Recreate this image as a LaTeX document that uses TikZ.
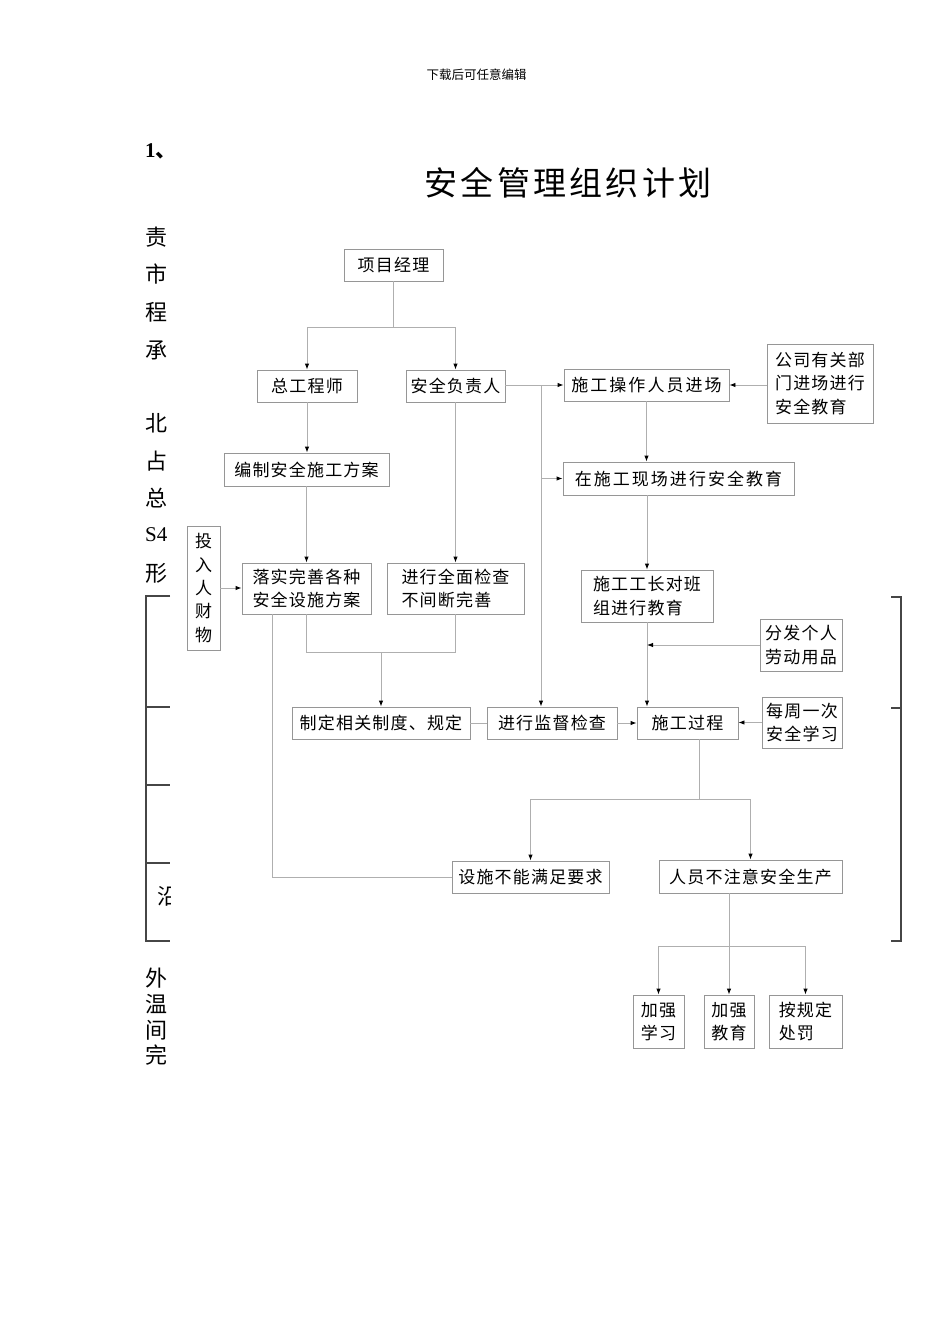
\documentclass[tikz,border=0pt]{standalone}
\usepackage{fontspec}
\setmainfont{Liberation Serif}
\newfontfamily\cjk[LetterSpace=7]{Noto Sans CJK SC}
\newfontfamily\cjkw[LetterSpace=12]{Noto Sans CJK SC}
\newfontfamily\cjkt[LetterSpace=10]{Noto Sans CJK SC}
\newfontfamily\cjkp{Noto Sans CJK SC}
\usetikzlibrary{arrows.meta}
\definecolor{boxgray}{RGB}{150,150,150}
\definecolor{linegray}{RGB}{175,175,175}
\definecolor{brkgray}{RGB}{70,70,70}
\begin{document}
\begin{tikzpicture}[x=1pt,y=-1pt,
  bx/.style={draw=boxgray, line width=0.9pt, inner sep=0pt, align=left, font={\cjk\fontsize{17}{23.5}\selectfont}},
  wbx/.style={bx, font={\cjkw\fontsize{17}{23.5}\selectfont}},
  conn/.style={draw=linegray, line width=0.9pt},
  arr/.style={conn, -{Latex[length=6pt,width=4.5pt,color=black]}},
  brk/.style={draw=brkgray, line width=1.3pt},
  lt/.style={font={\cjkp\fontsize{22}{22}\selectfont}, inner sep=0pt}
]
\fill[white] (0,0) rectangle (950,1344);
\useasboundingbox (0,0) rectangle (950,1344);

% header and title
\node[font={\cjkp\fontsize{12.5}{12.5}\selectfont}, inner sep=0pt] (hdr) at (476.5,75) {下载后可任意编辑};
\node[anchor=base west, inner sep=0pt] (num) at (145,157) {\fontsize{21}{21}\selectfont\bfseries 1\cjkp 、};
\node[font={\cjkt\fontsize{33}{33}\selectfont}, inner sep=0pt] (title) at (568,183) {安全管理组织计划};

% left column of clipped text
\node[lt] (l1) at (156,237) {责};
\node[lt] (l2) at (156,274) {市};
\node[lt] (l3) at (156,312) {程};
\node[lt] (l4) at (156,350) {承};
\node[lt] (l5) at (156,423) {北};
\node[lt] (l6) at (156,461) {占};
\node[lt] (l7) at (156,498) {总};
\node[anchor=west, inner sep=0pt, font={\fontsize{21}{21}\selectfont}] (l8) at (145,535) {S4};
\node[lt] (l9) at (156,573) {形};
\node[lt] (l10) at (156,978) {外};
\node[lt] (l11) at (156,1004) {温};
\node[lt] (l12) at (156,1030) {间};
\node[lt] (l13) at (156,1055) {完};
\begin{scope}
\clip (150,880) rectangle (170,912);
\node[lt] (yan) at (168,896) {沿};
\end{scope}

% brackets
\draw[brk] (170,596) -- (146,596) -- (146,941) -- (170,941);
\draw[brk] (146,707) -- (170,707);
\draw[brk] (146,785) -- (170,785);
\draw[brk] (146,863) -- (170,863);
\draw[brk] (891,597) -- (901,597) -- (901,941) -- (891,941);
\draw[brk] (891,708) -- (901,708);

% boxes
\node[bx, minimum width=99, minimum height=32] (pm) at (393.5,265) {项目经理};
\node[bx, minimum width=100, minimum height=32] (zg) at (307,386) {总工程师};
\node[bx, minimum width=99, minimum height=32] (aq) at (455.5,386) {安全负责人};
\node[bx, minimum width=165, minimum height=33] (bz) at (306.5,469.5) {编制安全施工方案};
\node[bx, minimum width=129, minimum height=51] (ls) at (306.5,588.5) {落实完善各种\\安全设施方案};
\node[bx, minimum width=137, minimum height=51] (jc) at (455.5,588.5) {进行全面检查\\不间断完善};
\node[bx, align=center, minimum width=33, minimum height=124, font={\cjkp\fontsize{17}{23.3}\selectfont}] (tr) at (203.5,588) {投\\入\\人\\财\\物};
\node[wbx, minimum width=165, minimum height=32] (cz) at (646.5,385) {施工操作人员进场};
\node[bx, minimum width=106, minimum height=79] (gs) at (820,383.5) {公司有关部\\门进场进行\\安全教育};
\node[wbx, minimum width=231, minimum height=33] (xc) at (678.5,478.5) {在施工现场进行安全教育};
\node[bx, minimum width=132, minimum height=52] (gz) at (647,596) {施工工长对班\\组进行教育};
\node[bx, minimum width=82, minimum height=52] (ff) at (801,645) {分发个人\\劳动用品};
\node[bx, minimum width=101, minimum height=32] (gc) at (687.5,723) {施工过程};
\node[bx, minimum width=80, minimum height=51] (mz) at (802,722.5) {每周一次\\安全学习};
\node[bx, minimum width=178, minimum height=32] (zd) at (381,723) {制定相关制度、规定};
\node[bx, minimum width=130, minimum height=32] (jd) at (552,723) {进行监督检查};
\node[bx, minimum width=157, minimum height=32] (ss) at (530.5,877) {设施不能满足要求};
\node[bx, minimum width=183, minimum height=33] (ry) at (750.5,876.5) {人员不注意安全生产};
\node[bx, minimum width=51, minimum height=53] (xx) at (658.5,1021.5) {加强\\学习};
\node[bx, minimum width=50, minimum height=53] (jy) at (729,1021.5) {加强\\教育};
\node[bx, minimum width=73, minimum height=53] (cf) at (805.5,1021.5) {按规定\\处罚};

% connectors
\draw[conn] (pm.south) -- ++(0,46) coordinate (j1);
\draw[arr] (j1) -| (zg.north);
\draw[arr] (j1) -| (aq.north);
\draw[arr] (zg.south) -- (zg.south |- bz.north);
\draw[arr] (bz.south) -- (bz.south |- ls.north);
\draw[arr] (aq.south) -- (aq.south |- jc.north);
\draw[arr] (tr.east) -- (tr.east -| ls.west);
\draw[conn] (ls.south) -- ++(0,38) coordinate (j3) -| (jc.south);
\draw[arr] (j3 -| zd.north) -- (zd.north);
\draw[conn] ([xshift=-34.5]ls.south) |- (ss.west);
\draw[conn] (zd.east) -- (jd.west);
\coordinate (jx) at (541,385);
\draw[conn] (aq.east |- jx) -- (jx);
\draw[arr] (jx) -- (jx -| cz.west);
\draw[arr] (jx) -- (jx |- jd.north);
\draw[arr] (jx |- xc.west) -- (xc.west);
\draw[arr] (cz.east -| gs.west) -- (cz.east);
\draw[arr] (cz.south) -- (cz.south |- xc.north);
\draw[arr] (xc.south -| gz.north) -- (gz.north);
\draw[arr] (gz.south) -- (gz.south |- gc.north);
\draw[arr] (ff.west) -- (ff.west -| gz.south);
\draw[arr] (jd.east) -- (gc.west);
\draw[arr] (mz.west) -- (mz.west -| gc.east);
\draw[conn] ([xshift=11.5]gc.south) -- ++(0,60) coordinate (j4);
\draw[arr] (j4) -| (ss.north);
\draw[arr] (j4) -| (ry.north);
\draw[conn] ([xshift=-21.5]ry.south) -- ++(0,53) coordinate (j5);
\draw[arr] (j5) -| (xx.north);
\draw[arr] (j5) -- (jy.north);
\draw[arr] (j5) -| (cf.north);
\end{tikzpicture}
\end{document}
